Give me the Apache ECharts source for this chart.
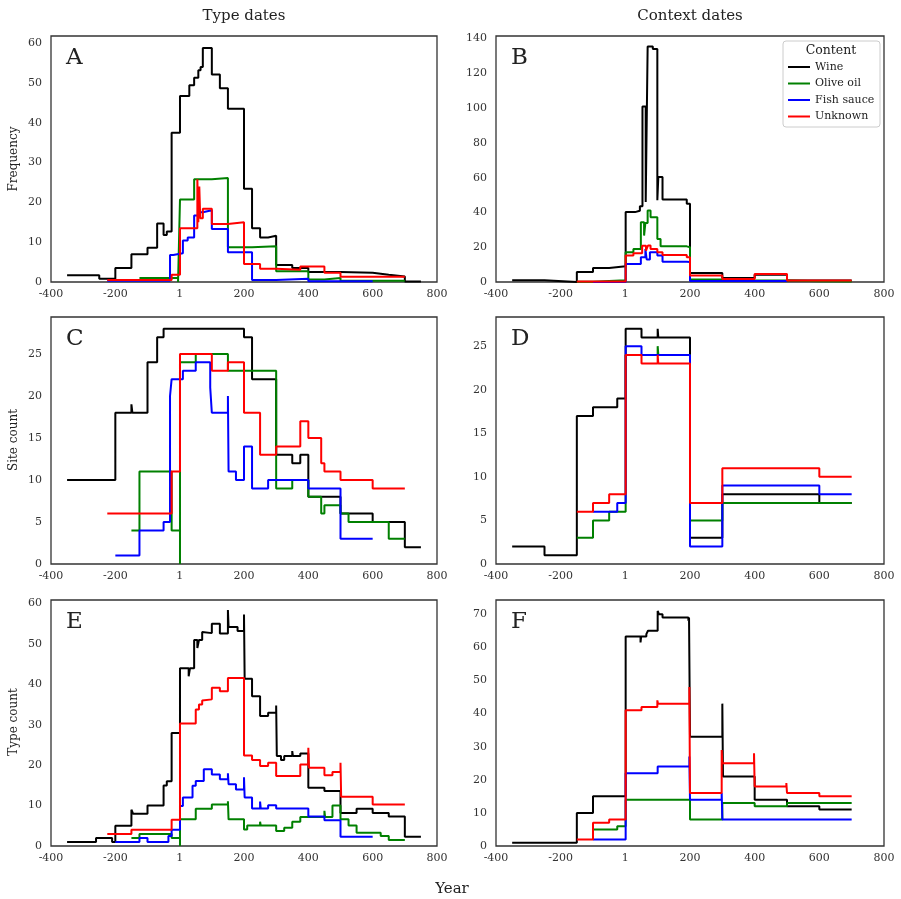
<!DOCTYPE html>
<html><head><meta charset="utf-8">
<script src="https://cdn.jsdelivr.net/npm/echarts@6/dist/echarts.min.js"></script>
<style>html,body{margin:0;padding:0;background:#fff}#c{width:901px;height:899px}</style>
</head><body><div id="c"></div>
<script>
// ---------- DATA (steps-post: value holds from year until next year) ----------
// Panel A: Frequency, type dates
const A_wine_yr = [-350,-250,-200,-150,-100,-70,-50,-40,-25,1,30,45,58,65,72,100,125,150,200,225,250,275,300,350,400,500,600,650,700,750];
const A_wine_v  = [1.7,0.8,3.5,7,8.6,14.7,11.8,12.7,37.5,46.7,49.4,51.3,53.2,54,58.8,52.1,48.7,43.5,23.4,13.5,11.2,11.6,4.3,3.5,2.5,2.3,1.8,1.4,0.15,0.15];
const A_oil_yr  = [-125,-5,1,45,100,150,225,300,400,450,500,700];
const A_oil_v   = [1.0,0,20.7,25.8,26.1,8.7,9.0,2.7,0.6,1.0,0.3,0.3];
const A_fish_yr = [-225,-30,-20,10,25,45,60,72,100,150,225,300,400,600];
const A_fish_v  = [0.3,6.8,7.2,10.4,11.2,16.7,17.5,18,13.3,7.5,0.5,0.8,0.2,0.2];
const A_unk_yr  = [-225,-25,1,55,58,61,64,72,100,150,200,250,300,375,450,500,700];
const A_unk_v   = [0.5,1.8,13.5,25.8,15,24,16,18.4,14.6,15,4.5,3.3,3.1,3.9,2.3,1.3,1.3];
// Panel B: Frequency, context dates
const B_wine_yr = [-350,-250,-150,-100,-50,1,30,45,53,63,69,85,99,102,115,190,200,300,400,500,700];
const B_wine_v  = [1.0,0,5.8,8.1,9.0,40.2,41,43.6,101,46,135.4,134,47,60.4,47.5,45,5.2,2.3,4.2,0.9,0.9];
const B_oil_yr  = [-150,-100,-50,1,25,48,58,62,69,78,99,109,190,200,300,400,500,600,700];
const B_oil_v   = [0.2,0.6,1.0,17.1,19,34.4,26.7,34,41.1,37.3,24.8,20.5,20,1.5,1.0,0.8,0.5,0.3,0.3];
const B_fish_yr = [-100,1,48,62,66,76,99,115,190,200,300,500];
const B_fish_v  = [0,10.4,14.2,19,13,17.1,15.2,11.7,11.5,0.6,0.6,0.6];
const B_unk_yr  = [-150,1,25,52,64,70,78,99,115,190,200,300,400,500,700];
const B_unk_v   = [0.3,15.2,16.6,20.9,18,21,19,17.1,15.6,14.2,3.8,1.7,4.6,0.9,0.9];
// Panel C: Site count, type dates
const C_wine_yr = [-350,-200,-150,-147,-100,-70,-50,200,225,300,350,375,400,500,600,700,750];
const C_wine_v  = [10,18,19,18,24,27,28,27,22,13,12,13,8,6,5,2,2];
const C_oil_yr  = [-150,-125,-25,1,1,50,150,300,350,400,440,450,500,525,650,700];
const C_oil_v   = [4,11,4,0,24,25,23,9,10,8,6,7,6,5,3,3];
const C_fish_yr = [-200,-125,-50,-30,-25,10,50,95,100,150,152,175,200,225,275,400,500,600];
const C_fish_v  = [1,4,5,20,22,23,24,21,18,20,11,10,14,9,10,9,3,3];
const C_unk_yr  = [-225,-25,1,100,150,200,250,300,375,400,440,450,500,600,700];
const C_unk_v   = [6,11,25,23,24,18,13,14,17,15,12,11,10,9,9];
// Panel D: Site count, context dates
const D_wine_yr = [-350,-250,-150,-100,-25,1,50,100,102,200,300,600,700];
const D_wine_v  = [2,1,17,18,19,27,26,27,26,3,8,7,7];
const D_oil_yr  = [-150,-100,-50,1,100,102,200,300,700];
const D_oil_v   = [3,5,6,24,25,24,5,7,7];
const D_fish_yr = [-100,-25,1,50,200,300,600,700];
const D_fish_v  = [6,7,25,24,2,9,8,8];
const D_unk_yr  = [-150,-100,-50,1,50,100,102,200,300,600,700];
const D_unk_v   = [6,7,8,24,23,24,23,7,11,10,10];
// Panel E: Type count, type dates
const E_wine_yr = [-350,-260,-210,-200,-150,-145,-100,-50,-40,-25,1,28,32,45,55,60,70,75,100,125,150,152,180,200,202,225,250,275,300,302,315,325,350,352,375,400,450,500,550,600,650,700,750];
const E_wine_v  = [1,2,1,5,9,8,10,15,16,28,44,42,44,51,49,51,53,52.7,55,52.6,58.4,54.2,53.2,57.3,41.4,37.1,32.2,33,34.8,22.3,21.3,22.3,23.5,22.3,22.9,14.4,13.6,8.2,9.2,8.2,7.3,2.3,2.3];
const E_oil_yr  = [-150,-125,-25,1,1,50,100,150,152,200,210,250,252,300,325,350,375,450,452,475,500,525,550,625,650,700];
const E_oil_v   = [2,3,2,0,6.6,9.2,10.3,11.1,6.6,4.1,5.1,6,5.1,3.7,4.5,6,7.2,8.7,7.2,10,6.6,5.1,3.3,2.5,1.5,1.5];
const E_fish_yr = [-200,-125,-100,-50,-35,-25,1,10,40,50,75,100,125,150,152,175,200,202,225,250,252,275,300,400,450,500,600];
const E_fish_v  = [1,2,1,1,2.5,4,9.9,12,14.9,16.1,19,17.7,16.5,18,15.3,14,17,12,9.3,11,9.3,10.1,9.3,7.3,6.4,2.3,2.3];
const E_unk_yr  = [-225,-150,-25,1,50,60,70,75,100,125,150,200,225,250,275,300,375,400,402,450,475,500,502,600,700];
const E_unk_v   = [3,4,6.5,30.3,33.8,35,36,36.3,39.2,38.3,41.6,22.4,21.3,19.8,20.6,17.3,20.2,24.3,19.4,17.5,18.3,20.6,12.2,10.3,10.3];
// Panel F: Type count, context dates
const F_wine_yr = [-350,-150,-100,1,47,49,65,70,100,104,115,195,197,200,300,302,400,500,600,700];
const F_wine_v  = [1,10,15,63.3,61.5,63.3,64,65,71,70,69,68,69,33,43,21,14,12,11,11];
const F_oil_yr  = [-100,-25,1,200,300,400,500,700];
const F_oil_v   = [5,6,14,8,13,12,13,13];
const F_fish_yr = [-100,1,100,198,200,298,300,700];
const F_fish_v  = [2,22,24,27,14,16,8,8];
const F_unk_yr  = [-150,-100,-50,1,50,99,101,198,200,298,300,398,400,498,500,600,700];
const F_unk_v   = [2,7,8,41,42,44,43,48,16,29,25,28,18,19,16,15,15];

const seriesNames = ['Wine','Olive oil','Fish sauce','Unknown'];
const seriesColors = ['#000000','#008000','#0000ff','#ff0000'];
const panelLetters = ['A','B','C','D','E','F'];
const yMaxes = [61.8,141.5,29.4,28.35,60.9,74.3];
const yIntervals = [10,20,5,5,10,10];

const panels = [
  [[A_wine_yr,A_wine_v],[A_oil_yr,A_oil_v],[A_fish_yr,A_fish_v],[A_unk_yr,A_unk_v]],
  [[B_wine_yr,B_wine_v],[B_oil_yr,B_oil_v],[B_fish_yr,B_fish_v],[B_unk_yr,B_unk_v]],
  [[C_wine_yr,C_wine_v],[C_oil_yr,C_oil_v],[C_fish_yr,C_fish_v],[C_unk_yr,C_unk_v]],
  [[D_wine_yr,D_wine_v],[D_oil_yr,D_oil_v],[D_fish_yr,D_fish_v],[D_unk_yr,D_unk_v]],
  [[E_wine_yr,E_wine_v],[E_oil_yr,E_oil_v],[E_fish_yr,E_fish_v],[E_unk_yr,E_unk_v]],
  [[F_wine_yr,F_wine_v],[F_oil_yr,F_oil_v],[F_fish_yr,F_fish_v],[F_unk_yr,F_unk_v]],
];

// ---------- LAYOUT ----------
const FONT = 'DejaVu Serif';
const gridBoxes = [
  {left:51, top:36, width:386, height:246},
  {left:496, top:36, width:388, height:246},
  {left:51, top:317, width:386, height:247},
  {left:496, top:317, width:388, height:247},
  {left:51, top:600, width:386, height:246},
  {left:496, top:600, width:388, height:246},
];

const grid = [], xAxis = [], yAxis = [], series = [], graphic = [];
gridBoxes.forEach((g, i) => {
  grid.push(Object.assign({show:true, borderColor:'#333', borderWidth:1.3, backgroundColor:'#fff', containLabel:false}, g));
  xAxis.push({
    type:'value', gridIndex:i, min:-400, max:800, interval:200,
    axisLine:{show:false}, axisTick:{show:false}, splitLine:{show:false},
    axisLabel:{margin:7, color:'#333', fontFamily:FONT, fontSize:11,
      formatter: v => (v === 0 ? '1' : String(v))}
  });
  const iv = yIntervals[i];
  yAxis.push({
    type:'value', gridIndex:i, min:0, max:yMaxes[i], interval:iv,
    axisLine:{show:false}, axisTick:{show:false}, splitLine:{show:false},
    axisLabel:{margin:9, color:'#333', fontFamily:FONT, fontSize:11,
      formatter: v => (Math.abs(v/iv - Math.round(v/iv)) < 1e-6 ? String(v) : '')}
  });
  panels[i].forEach((pair, k) => {
    const [yr, val] = pair;
    series.push({
      name: seriesNames[k], type:'line', step:'end', xAxisIndex:i, yAxisIndex:i,
      symbol:'none', showSymbol:false, animation:false,
      lineStyle:{color:seriesColors[k], width:2},
      itemStyle:{color:seriesColors[k]},
      data: yr.map((x, j) => [x, val[j]]), z: 2 + k
    });
  });
  graphic.push({type:'text', left:g.left + 15, top:g.top + 11, z:10,
    style:{text:panelLetters[i], font:'23px "DejaVu Serif"', fill:'#222'}});
});

// titles & axis names
graphic.push({type:'text', x:244, y:16, style:{text:'Type dates', font:'15px "DejaVu Serif"', fill:'#222', textAlign:'center', textVerticalAlign:'middle'}});
graphic.push({type:'text', x:690, y:16, style:{text:'Context dates', font:'15px "DejaVu Serif"', fill:'#222', textAlign:'center', textVerticalAlign:'middle'}});
graphic.push({type:'text', x:452, y:889, style:{text:'Year', font:'15px "DejaVu Serif"', fill:'#222', textAlign:'center', textVerticalAlign:'middle'}});
[['Frequency',159],['Site count',440],['Type count',722]].forEach(([t, cy]) => {
  graphic.push({type:'text', x:14, y:cy, rotation:Math.PI/2,
    style:{text:t, font:'12px "DejaVu Serif"', fill:'#222', textAlign:'center', textVerticalAlign:'middle'}});
});
// legend frame + title
graphic.push({type:'rect', shape:{x:783, y:41, width:97, height:86, r:3}, z:20,
  style:{fill:'rgba(255,255,255,0.85)', stroke:'#cccccc', lineWidth:1}});
graphic.push({type:'text', x:831, y:51, z:21, style:{text:'Content', font:'12.5px "DejaVu Serif"', fill:'#222', textAlign:'center', textVerticalAlign:'middle'}});

const chart = echarts.init(document.getElementById('c'), null, {renderer:'canvas'});
chart.setOption({
  animation:false,
  backgroundColor:'#fff',
  grid, xAxis, yAxis, series, graphic,
  legend:{
    data: seriesNames, orient:'vertical', left:788, top:61, z:30,
    itemWidth:22, itemHeight:12, itemGap:4.5, padding:0,
    icon:'path://M0,5 L22,5 L22,7 L0,7 Z',
    textStyle:{fontFamily:FONT, fontSize:11, color:'#222', lineHeight:12},
    selectedMode:false
  }
});
</script></body></html>
